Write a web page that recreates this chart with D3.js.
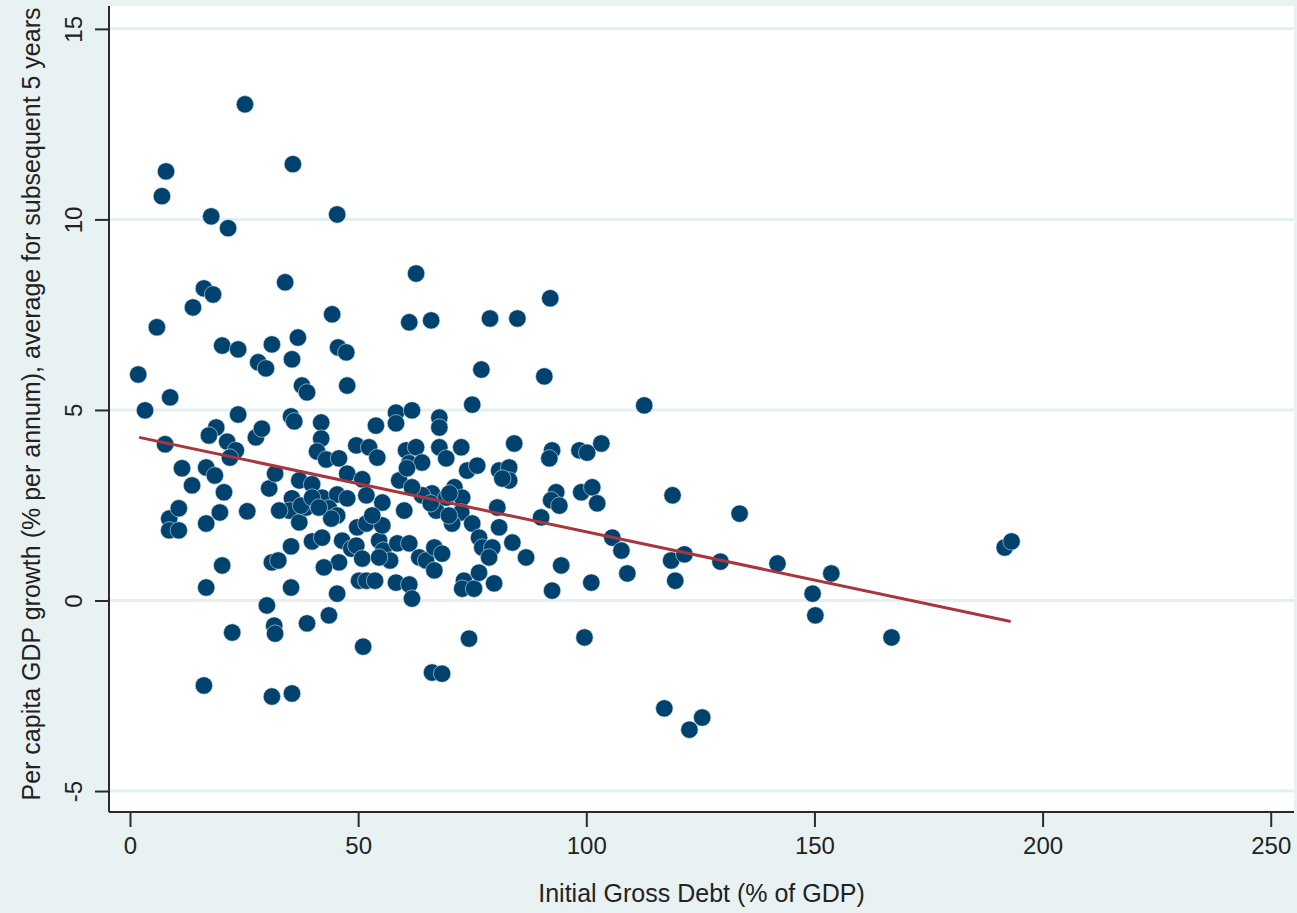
<!DOCTYPE html>
<html>
<head>
<meta charset="utf-8">
<script src="https://cdn.jsdelivr.net/npm/d3@7"></script>
<style>
  body { margin: 0; background: #e8f2f3; }
  svg { display: block; font-family: Arial, "Liberation Sans", sans-serif; }
</style>
</head>
<body>
<svg id="svg"></svg>
<script>
// initial debt (% of GDP) and growth over next 5 years
var debt = [1.8,3.3,5.9,7.0,7.9,7.7,8.8,11.4,13.6,8.6,10.7,8.6,10.7,16.7,20.2,16.7,13.8,16.2,18.2,17.8,
  21.5,25.2,20.2,23.7,23.7,18.9,17.3,21.3,23.2,21.9,16.7,18.6,20.6,19.7,25.7,30.5,31.8,27.6,28.9,35.3,
  36.0,31.1,32.5,35.3,35.3,30.0,22.4,16.2,31.6,31.8,38.8,43.6,51.1,31.1,35.5,28.1,29.8,31.1,34.0,35.7,
  45.4,35.5,36.8,37.7,38.8,44.3,45.6,47.4,47.6,41.9,41.9,41.0,43.0,45.8,49.6,52.4,54.2,47.6,50.9,37.1,
  39.9,35.5,34.9,37.1,38.6,42.1,45.4,47.6,43.6,45.4,44.1,51.8,55.3,60.1,32.7,39.9,42.1,46.5,48.5,49.6,
  50.9,45.8,42.5,45.4,50.2,51.8,53.7,54.6,55.5,57.0,54.6,58.6,61.2,58.3,61.2,61.8,63.4,64.9,66.7,68.4,
  66.7,66.2,68.4,74.3,73.2,72.8,75.4,79.8,76.5,86.8,94.5,92.5,75.0,84.2,92.5,91.9,98.5,100.2,103.3,93.4,
  92.3,94.1,90.1,98.9,101.3,102.4,80.9,83.1,83.1,81.6,80.5,72.6,67.8,69.3,73.9,76.1,66.2,67.1,69.3,71.1,
  72.8,72.6,70.6,75.0,76.5,77.2,79.4,78.7,80.9,83.8,64.0,59.0,61.8,60.5,62.7,61.2,64.0,58.3,61.8,58.3,
  67.8,67.8,53.9,90.8,92.1,62.7,61.2,66.0,78.9,84.9,77.0,112.7,105.7,107.7,101.1,109.0,118.9,133.6,118.6,121.5,
  119.5,129.4,141.9,153.7,149.6,150.2,99.6,117.1,122.6,125.4,166.9,191.7,193.2,49.8,51.8,55.3,53.1,65.9,60.7,69.9,
  37.5,39.9,70.0,41.4];
var growth = [5.93,4.99,7.17,10.61,11.26,4.10,5.33,3.47,3.02,2.15,2.42,1.84,1.84,2.02,0.92,0.34,7.69,8.19,8.03,10.08,
  9.77,13.02,6.69,6.59,4.88,4.54,4.33,4.17,3.94,3.75,3.49,3.28,2.84,2.31,2.34,2.94,3.33,4.28,4.51,4.83,
  4.70,1.00,1.05,1.42,0.34,-0.13,-0.84,-2.23,-0.66,-0.87,-0.60,-0.39,-1.21,-2.52,-2.44,6.25,6.09,6.72,8.35,11.45,
  10.13,6.33,6.90,5.64,5.46,7.51,6.64,6.51,5.64,4.67,4.25,3.91,3.70,3.73,4.07,4.02,3.75,3.33,3.18,3.15,
  3.05,2.68,2.36,2.05,2.44,2.70,2.78,2.68,2.42,2.23,2.15,2.76,2.57,2.36,2.36,1.55,1.65,1.57,1.36,1.44,
  1.10,1.00,0.87,0.18,0.52,0.52,0.52,1.57,1.31,1.05,1.13,1.50,1.50,0.47,0.42,0.05,1.13,1.05,1.39,1.23,
  0.79,-1.89,-1.92,-1.00,0.52,0.31,0.31,0.45,0.73,1.13,0.92,0.26,5.14,4.12,3.94,3.73,3.94,3.88,4.12,2.84,
  2.63,2.49,2.18,2.84,2.97,2.55,3.41,3.49,3.15,3.20,2.44,4.02,4.02,3.73,3.41,3.54,2.81,2.36,2.70,2.97,
  2.70,2.31,2.02,2.02,1.65,1.39,1.39,1.13,1.92,1.52,2.76,3.15,2.97,3.94,4.02,3.60,3.62,4.93,4.99,4.65,
  4.80,4.54,4.59,5.88,7.93,8.58,7.30,7.35,7.40,7.40,6.06,5.12,1.65,1.31,0.47,0.71,2.76,2.28,1.05,1.21,
  0.52,1.02,0.97,0.71,0.18,-0.39,-0.97,-2.83,-3.39,-3.07,-0.97,1.39,1.55,1.92,2.02,1.97,2.23,2.55,3.47,2.23,
  2.49,2.70,2.81,2.44];

// fitted line end points
var fitDebt = [2, 193];
var fitGrowth = [4.28, -0.55];

var xTicks = [0, 50, 100, 150, 200, 250];
var yTicks = [-5, 0, 5, 10, 15];

var W = 1297, H = 913;
var Marge = {top: 6, right: 3, bottom: 101, left: 109};

var svg = d3.select("#svg")
    .attr("width", W)
    .attr("height", H);

svg.append("rect")
    .attr("width", W).attr("height", H)
    .attr("fill", "#e8f2f3");

var x_scale = d3.scaleLinear()
    .domain([-4.6, 255.1])
    .range([Marge.left, W - Marge.right]);

var y_scale = d3.scaleLinear()
    .domain([-5.55, 15.6])
    .range([H - Marge.bottom, Marge.top]);

// plot area
svg.append("rect")
    .attr("x", Marge.left).attr("y", Marge.top)
    .attr("width", W - Marge.right - Marge.left)
    .attr("height", H - Marge.bottom - Marge.top)
    .attr("fill", "#ffffff");

// horizontal grid
svg.append("g")
  .selectAll("line")
  .data(yTicks)
  .join("line")
    .attr("x1", Marge.left)
    .attr("x2", W - Marge.right)
    .attr("y1", function(d) { return y_scale(d); })
    .attr("y2", function(d) { return y_scale(d); })
    .attr("stroke", "#e3eff1")
    .attr("stroke-width", 3);

// points
svg.append("g")
  .selectAll("circle")
  .data(debt)
  .join("circle")
    .attr("cx", function(d) { return x_scale(d); })
    .attr("cy", function(d, i) { return y_scale(growth[i]); })
    .attr("r", 8.7)
    .attr("fill", "#00426e")
    .attr("stroke", "#d9e4ec")
    .attr("stroke-width", 0.6);

// fit line
var lineFunction = d3.line()
    .x(function(d) { return x_scale(d); })
    .y(function(d, i) { return y_scale(fitGrowth[i]); });

svg.append("path")
    .attr("d", lineFunction(fitDebt))
    .attr("stroke", "#a8363d")
    .attr("stroke-width", 3)
    .attr("fill", "none");

// axes
var plain = function(d) { return String(d); };
var xAxis = d3.axisBottom(x_scale).tickValues(xTicks).tickFormat(plain).tickSize(15).tickPadding(10);
var yAxis = d3.axisLeft(y_scale).tickValues(yTicks).tickFormat(plain).tickSize(14).tickPadding(8);

var gx = svg.append("g")
    .attr("transform", "translate(0," + (H - Marge.bottom) + ")")
    .call(xAxis);
gx.select(".domain").attr("d", "M" + Marge.left + ",0H" + (W - Marge.right));

var gy = svg.append("g")
    .attr("transform", "translate(" + Marge.left + ",0)")
    .call(yAxis);
gy.select(".domain").attr("d", "M0," + Marge.top + "V" + (H - Marge.bottom));

[gx, gy].forEach(function(g) {
  g.selectAll(".domain").attr("stroke", "#2b2b2b").attr("stroke-width", 2);
  g.selectAll(".tick line").attr("stroke", "#2b2b2b").attr("stroke-width", 2);
  g.selectAll("text").attr("font-size", 24).attr("fill", "#222").attr("font-family", "Arial, 'Liberation Sans', sans-serif");
});

gy.selectAll(".tick text")
    .attr("transform", "rotate(-90)")
    .attr("x", 0)
    .attr("y", -27)
    .attr("dy", 0)
    .attr("text-anchor", "middle");

// titles
svg.append("text")
    .attr("x", (Marge.left + W - Marge.right) / 2)
    .attr("y", 902)
    .attr("text-anchor", "middle")
    .attr("font-size", 25)
    .attr("fill", "#222")
    .text("Initial Gross Debt (% of GDP)");

svg.append("text")
    .attr("transform", "translate(40,404) rotate(-90)")
    .attr("text-anchor", "middle")
    .attr("font-size", 25)
    .attr("fill", "#222")
    .text("Per capita GDP growth (% per annum), average for subsequent 5 years");
</script>
</body>
</html>
